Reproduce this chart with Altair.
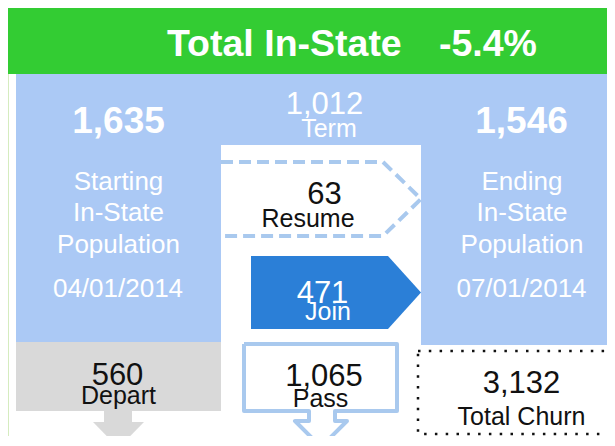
import altair as alt
import pandas as pd

# ---- values ----
banner_title = "Total In-State"
banner_change = "-5.4%"
start_value = 1635
end_value = 1546
start_label = ["Starting", "In-State", "Population"]
end_label = ["Ending", "In-State", "Population"]
start_date = "04/01/2014"
end_date = "07/01/2014"
flow_labels = ["Term", "Resume", "Join", "Depart", "Pass", "Total Churn"]
flow_counts = [1012, 63, 471, 560, 1065, 3132]

# ---- layout (pixel coordinates of the 615x446 reference) ----
FONT = "Liberation Sans"
X0, X1, Y0, Y1 = 8, 607, 8, 436
xs = alt.Scale(domain=[X0, X1], nice=False, zero=False)
ys = alt.Scale(domain=[Y0, Y1], nice=False, zero=False, reverse=True)

def X(f="x"):
    return alt.X(f"{f}:Q", scale=xs, axis=None)

def Y(f="y"):
    return alt.Y(f"{f}:Q", scale=ys, axis=None)

rects = pd.DataFrame([
    dict(x=0, x2=9, y=0, y2=446, fill="#d5ecbf"),
    dict(x=7, x2=640, y=3, y2=74, fill="#33cc33"),
    dict(x=16, x2=640, y=74, y2=345, fill="#abc9f5"),
    dict(x=221, x2=421, y=145, y2=460, fill="#ffffff"),
    dict(x=16, x2=221, y=342, y2=411, fill="#d9d9d9"),
    dict(x=104, x2=132, y=410, y2=423, fill="#d9d9d9"),
])
rect_layer = alt.Chart(rects).mark_rect(clip=True).encode(
    x=X(), x2="x2:Q", y=Y(), y2="y2:Q", color=alt.Color("fill:N", scale=None)
)

# grey arrow head (area: x independent, y top/y2 bottom)
grey_head = pd.DataFrame(dict(x=[93, 118.5, 144], y=[422, 422, 422], y2=[422, 448, 422]))
grey_head_layer = alt.Chart(grey_head).mark_area(color="#d9d9d9", clip=True).encode(
    x=X(), y=Y(), y2="y2:Q"
)

# Join arrow
join_shape = pd.DataFrame(dict(x=[251, 388, 421], y=[256, 256, 292.5], y2=[329, 329, 292.5]))
join_layer = alt.Chart(join_shape).mark_area(color="#2b7fd7", clip=True).encode(
    x=X(), y=Y(), y2="y2:Q"
)

# Resume dashed arrow outline
resume_pts = pd.DataFrame(dict(
    x=[221, 383, 421, 383, 221], y=[162, 162, 199, 236, 236], o=list(range(5))))
resume_layer = alt.Chart(resume_pts).mark_line(
    color="#a9c9ee", strokeWidth=4, strokeDash=[12, 6], clip=True
).encode(x=X(), y=Y(), order="o:Q")

# Pass box + down-arrow outline
pass_x = [244, 397, 397, 335, 335, 347, 321, 295, 309, 309, 244, 244]
pass_y = [344, 344, 411, 411, 421, 421, 447, 421, 421, 411, 411, 344]
pass_pts = pd.DataFrame(dict(x=pass_x, y=pass_y, o=list(range(len(pass_x)))))
pass_layer = alt.Chart(pass_pts).mark_line(
    color="#a9c9ee", strokeWidth=4, strokeJoin="round", clip=True
).encode(x=X(), y=Y(), order="o:Q")

# dotted Total Churn box
churn_box = pd.DataFrame([dict(x=418, x2=640, y=351, y2=434)])
churn_layer = alt.Chart(churn_box).mark_rect(
    fill=None, stroke="#111111", strokeWidth=2.5, strokeDash=[2.5, 8.3], clip=True
).encode(x=X(), x2="x2:Q", y=Y(), y2="y2:Q")

# ---- texts ----
fmt = lambda v: f"{v:,}"
bold_texts = pd.DataFrame([
    dict(x=167, y=56, t=banner_title, s=37.5, c="#ffffff", a="left"),
    dict(x=439, y=56, t=banner_change, s=37.5, c="#ffffff", a="left"),
    dict(x=118.5, y=133, t=fmt(start_value), s=37, c="#ffffff", a="center"),
    dict(x=521.5, y=133, t=fmt(end_value), s=37, c="#ffffff", a="center"),
])
plain_rows = []
for i, (ls, le) in enumerate(zip(start_label, end_label)):
    yy = [190, 221, 253][i]
    plain_rows.append(dict(x=118.5, y=yy, t=ls, s=26, c="#ffffff"))
    plain_rows.append(dict(x=522, y=yy, t=le, s=26, c="#ffffff"))
plain_rows.append(dict(x=118, y=297, t=start_date, s=26, c="#ffffff"))
plain_rows.append(dict(x=521.5, y=297, t=end_date, s=26, c="#ffffff"))

# flow numbers and labels: (num x, num y, label x, label y, colour)
flow_pos = [
    (324.5, 114, 329, 137, "#ffffff"),
    (324.5, 204, 308, 227, "#111111"),
    (322.5, 303, 328, 320, "#ffffff"),
    (117.5, 385, 118.5, 404, "#111111"),
    (324, 386, 320.5, 407, "#111111"),
    (521.5, 393, 521.5, 425, "#111111"),
]
for lab, val, (nx, ny, lx, ly, col) in zip(flow_labels, flow_counts, flow_pos):
    plain_rows.append(dict(x=nx, y=ny, t=fmt(val), s=31, c=col))
    plain_rows.append(dict(x=lx, y=ly, t=lab, s=25, c=col))
plain_texts = pd.DataFrame(plain_rows)

bold_left = alt.Chart(bold_texts[bold_texts.a == "left"]).mark_text(
    font=FONT, fontWeight="bold", baseline="alphabetic", align="left"
).encode(x=X(), y=Y(), text="t:N", size=alt.Size("s:Q", scale=None),
         color=alt.Color("c:N", scale=None))
bold_center = alt.Chart(bold_texts[bold_texts.a == "center"]).mark_text(
    font=FONT, fontWeight="bold", baseline="alphabetic", align="center"
).encode(x=X(), y=Y(), text="t:N", size=alt.Size("s:Q", scale=None),
         color=alt.Color("c:N", scale=None))
plain_layer = alt.Chart(plain_texts).mark_text(
    font=FONT, baseline="alphabetic", align="center"
).encode(x=X(), y=Y(), text="t:N", size=alt.Size("s:Q", scale=None),
         color=alt.Color("c:N", scale=None))

chart = alt.layer(
    rect_layer, grey_head_layer, resume_layer, join_layer, pass_layer,
    churn_layer, bold_left, bold_center, plain_layer
).properties(
    width=X1 - X0, height=Y1 - Y0, autosize=alt.AutoSizeParams(type="none"), padding=0
).configure_view(stroke=None)

chart.save("out.html", embed_options={"renderer": "svg", "actions": False})
